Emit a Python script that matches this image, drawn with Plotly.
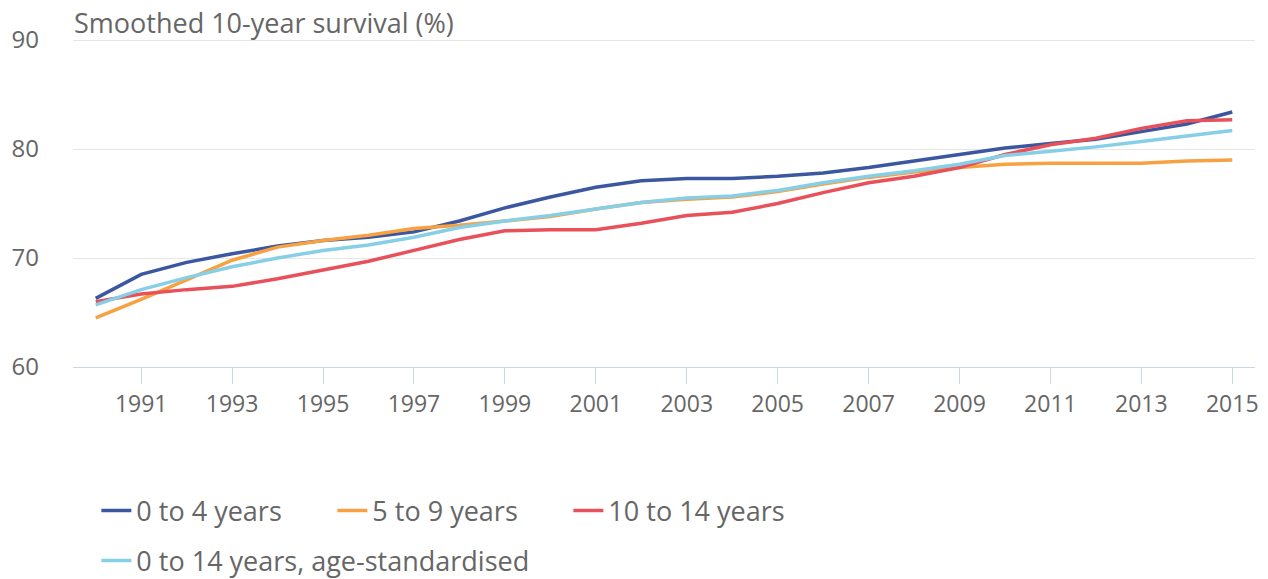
import plotly.graph_objects as go

years = list(range(1990, 2016))
age_0_4 = [66.3, 68.5, 69.6, 70.4, 71.1, 71.6, 71.9, 72.4, 73.4, 74.6, 75.6, 76.5, 77.1, 77.3, 77.3, 77.5, 77.8, 78.3, 78.9, 79.5, 80.1, 80.5, 80.9, 81.6, 82.3, 83.4]
age_5_9 = [64.5, 66.2, 68.0, 69.8, 71.0, 71.6, 72.1, 72.7, 73.0, 73.4, 73.8, 74.5, 75.1, 75.4, 75.6, 76.1, 76.8, 77.4, 77.9, 78.3, 78.6, 78.7, 78.7, 78.7, 78.9, 79.0]
age_10_14 = [66.0, 66.7, 67.1, 67.4, 68.1, 68.9, 69.7, 70.7, 71.7, 72.5, 72.6, 72.6, 73.2, 73.9, 74.2, 75.0, 76.0, 76.9, 77.5, 78.3, 79.5, 80.4, 81.0, 81.9, 82.6, 82.7]
age_std = [65.7, 67.1, 68.2, 69.2, 70.0, 70.7, 71.2, 71.9, 72.8, 73.4, 73.9, 74.5, 75.1, 75.5, 75.7, 76.2, 76.9, 77.5, 78.0, 78.6, 79.4, 79.8, 80.2, 80.7, 81.2, 81.7]

names = ["0 to 4 years", "5 to 9 years", "10 to 14 years", "0 to 14 years, age-standardised"]
colors = ["#3a57a0", "#f7a142", "#e8505a", "#86cfe6"]
series = [age_0_4, age_5_9, age_10_14, age_std]
x_ticks = list(range(1991, 2016, 2))
y_ticks = [60, 70, 80, 90]

FONT = "Open Sans"
GREY = "#666666"

fig = go.Figure()
for i, (n, c, s) in enumerate(zip(names, colors, series)):
    fig.add_trace(go.Scatter(
        x=years, y=s, name=n, mode="lines",
        line=dict(color=c, width=3.5),
        legend="legend" if i < 3 else "legend2",
    ))

fig.update_layout(
    width=1268, height=579,
    margin=dict(l=73, r=13, t=39, b=212),
    paper_bgcolor="white", plot_bgcolor="white",
    font=dict(family=FONT, color=GREY, size=24),
    showlegend=True,
    legend=dict(
        orientation="h", xref="container", yref="container",
        x=0.076, y=1 - 511 / 579, xanchor="left", yanchor="middle",
        font=dict(size=27, color=GREY, family=FONT),
        entrywidth=191, bgcolor="rgba(0,0,0,0)",
    ),
    legend2=dict(
        orientation="h", xref="container", yref="container",
        x=0.076, y=1 - 561 / 579, xanchor="left", yanchor="middle",
        font=dict(size=27, color=GREY, family=FONT),
        bgcolor="rgba(0,0,0,0)",
    ),
    xaxis=dict(
        range=[1989.5, 2015.5], tickvals=x_ticks, ticktext=[str(t) for t in x_ticks],
        showgrid=False, zeroline=False, automargin=False,
        showline=True, linecolor="#ccd6eb", linewidth=1,
        ticks="outside", ticklen=16, tickcolor="#ccd6eb", tickwidth=1,
        tickfont=dict(size=23, color=GREY, family=FONT),
    ),
    yaxis=dict(
        range=[60, 90.1], tickvals=y_ticks, ticktext=[str(t) for t in y_ticks],
        showgrid=True, gridcolor="#e6e6e6", gridwidth=1, zeroline=False,
        showline=False, ticks="", ticklabelstandoff=33, automargin=False,
        tickfont=dict(size=24, color=GREY, family=FONT),
    ),
    annotations=[dict(
        text="Smoothed 10-year survival (%)", xref="paper", yref="paper",
        x=-0.001, y=(367 - 22) / 328, xanchor="left", yanchor="middle",
        showarrow=False, font=dict(size=27, color=GREY, family=FONT),
    )],
)

fig.write_html(
    "out.html",
    config={"displayModeBar": False},
    post_script="document.body.style.margin='0';",
)
